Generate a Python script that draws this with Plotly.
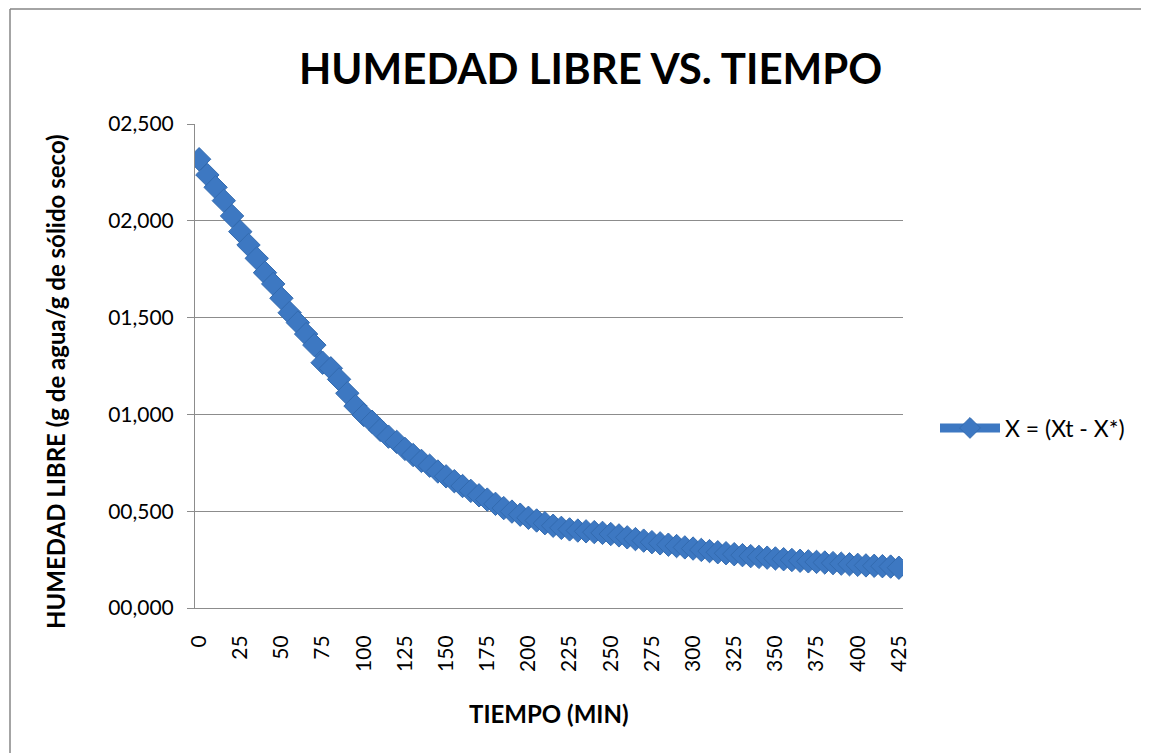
import plotly.graph_objects as go

# ---- data ----
tiempo = list(range(0, 430, 5))
humedad = [
    2.318, 2.237, 2.173, 2.104, 2.025, 1.944, 1.875, 1.806, 1.732, 1.674,
    1.600, 1.525, 1.474, 1.415, 1.358, 1.267, 1.238, 1.181, 1.109, 1.043,
    0.997, 0.962, 0.920, 0.885, 0.858, 0.822, 0.790, 0.760, 0.735, 0.705,
    0.680, 0.655, 0.630, 0.605, 0.582, 0.560, 0.538, 0.516, 0.498, 0.482,
    0.466, 0.452, 0.438, 0.425, 0.414, 0.406, 0.400, 0.396, 0.392, 0.388,
    0.382, 0.375, 0.365, 0.356, 0.348, 0.340, 0.334, 0.327, 0.320, 0.313,
    0.307, 0.300, 0.294, 0.288, 0.283, 0.278, 0.273, 0.268, 0.264, 0.260,
    0.256, 0.252, 0.248, 0.244, 0.241, 0.238, 0.235, 0.232, 0.229, 0.226,
    0.223, 0.220, 0.218, 0.216, 0.214, 0.208,
]
x_tick_labels = [str(v) for v in range(0, 430, 25)]
y_tick_vals = [0, 0.5, 1.0, 1.5, 2.0, 2.5]
y_tick_text = ["00,000", "00,500", "01,000", "01,500", "02,000", "02,500"]
series_name = "X = (Xt - X*)"
title_text = "HUMEDAD LIBRE VS. TIEMPO"
x_title = "TIEMPO (MIN)"
y_title = "HUMEDAD LIBRE (g de agua/g de sólido seco)"

FONT = "Lato, Carlito, 'Open Sans', sans-serif"
BLUE = "#3D78C2"
GRID = "#8C8C8C"

OFF = 8  # page body margin
W, H = 1149 - OFF, 753 - OFF
L, R, T, B = 195 - OFF, 246, 124 - OFF, 145
PW, PH = W - L - R, H - T - B

def px(x):  # page pixel -> paper
    return (x - OFF - L) / PW

def py(y):
    return (H - B - (y - OFF)) / PH

fig = go.Figure()
fig.add_trace(go.Scatter(
    x=[str(t) for t in tiempo], y=humedad, name=series_name,
    mode="lines+markers",
    line=dict(color=BLUE, width=9),
    marker=dict(symbol="diamond", size=18, color=BLUE,
                line=dict(color="#336BB0", width=1)),
))

border = dict(color="#868686", width=1.5)

fig.update_layout(
    width=W, height=H,
    margin=dict(l=L, r=R, t=T, b=B, autoexpand=False),
    paper_bgcolor="white", plot_bgcolor="white",
    font=dict(family=FONT, color="#000000", size=21),
    showlegend=True,
    legend=dict(x=px(935), y=py(428), xanchor="left", yanchor="middle",
                itemwidth=60, font=dict(size=23, family=FONT),
                bgcolor="rgba(0,0,0,0)"),
    xaxis=dict(
        type="category", range=[-0.5, len(tiempo) - 0.5],
        tickmode="array", tickvals=x_tick_labels, ticktext=x_tick_labels,
        tickangle=-90, showgrid=False, showline=True, linecolor=GRID,
        linewidth=1, ticks="", tickfont=dict(size=21), zeroline=False,
        ticklabelstandoff=18,
    ),
    yaxis=dict(
        range=[0, 2.5], tickmode="array", tickvals=y_tick_vals,
        ticktext=y_tick_text, showgrid=True, gridcolor=GRID, gridwidth=1,
        showline=True, linecolor=GRID, linewidth=1, ticks="outside",
        ticklen=7, tickcolor=GRID, tickfont=dict(size=21), zeroline=False,
        ticklabelstandoff=9,
    ),
    annotations=[
        dict(text="<b>" + title_text + "</b>", xref="paper", yref="paper",
             x=px(590), y=py(68), xanchor="center", yanchor="middle",
             showarrow=False, font=dict(size=42, family=FONT)),
        dict(text="<b>" + x_title + "</b>", xref="paper", yref="paper",
             x=px(549), y=py(713), xanchor="center", yanchor="middle",
             showarrow=False, font=dict(size=24, family=FONT)),
        dict(text="<b>" + y_title + "</b>", xref="paper", yref="paper",
             x=px(55), y=py(382), xanchor="center", yanchor="middle",
             textangle=-90, showarrow=False, font=dict(size=24, family=FONT)),
    ],
    shapes=[
        dict(type="line", xref="paper", yref="paper",
             x0=px(10), x1=px(1160), y0=py(9), y1=py(9),
             line=border, layer="below"),
        dict(type="line", xref="paper", yref="paper",
             x0=px(10), x1=px(10), y0=py(9), y1=py(770),
             line=border, layer="below"),
    ],
)

fig.write_html("out.html")
